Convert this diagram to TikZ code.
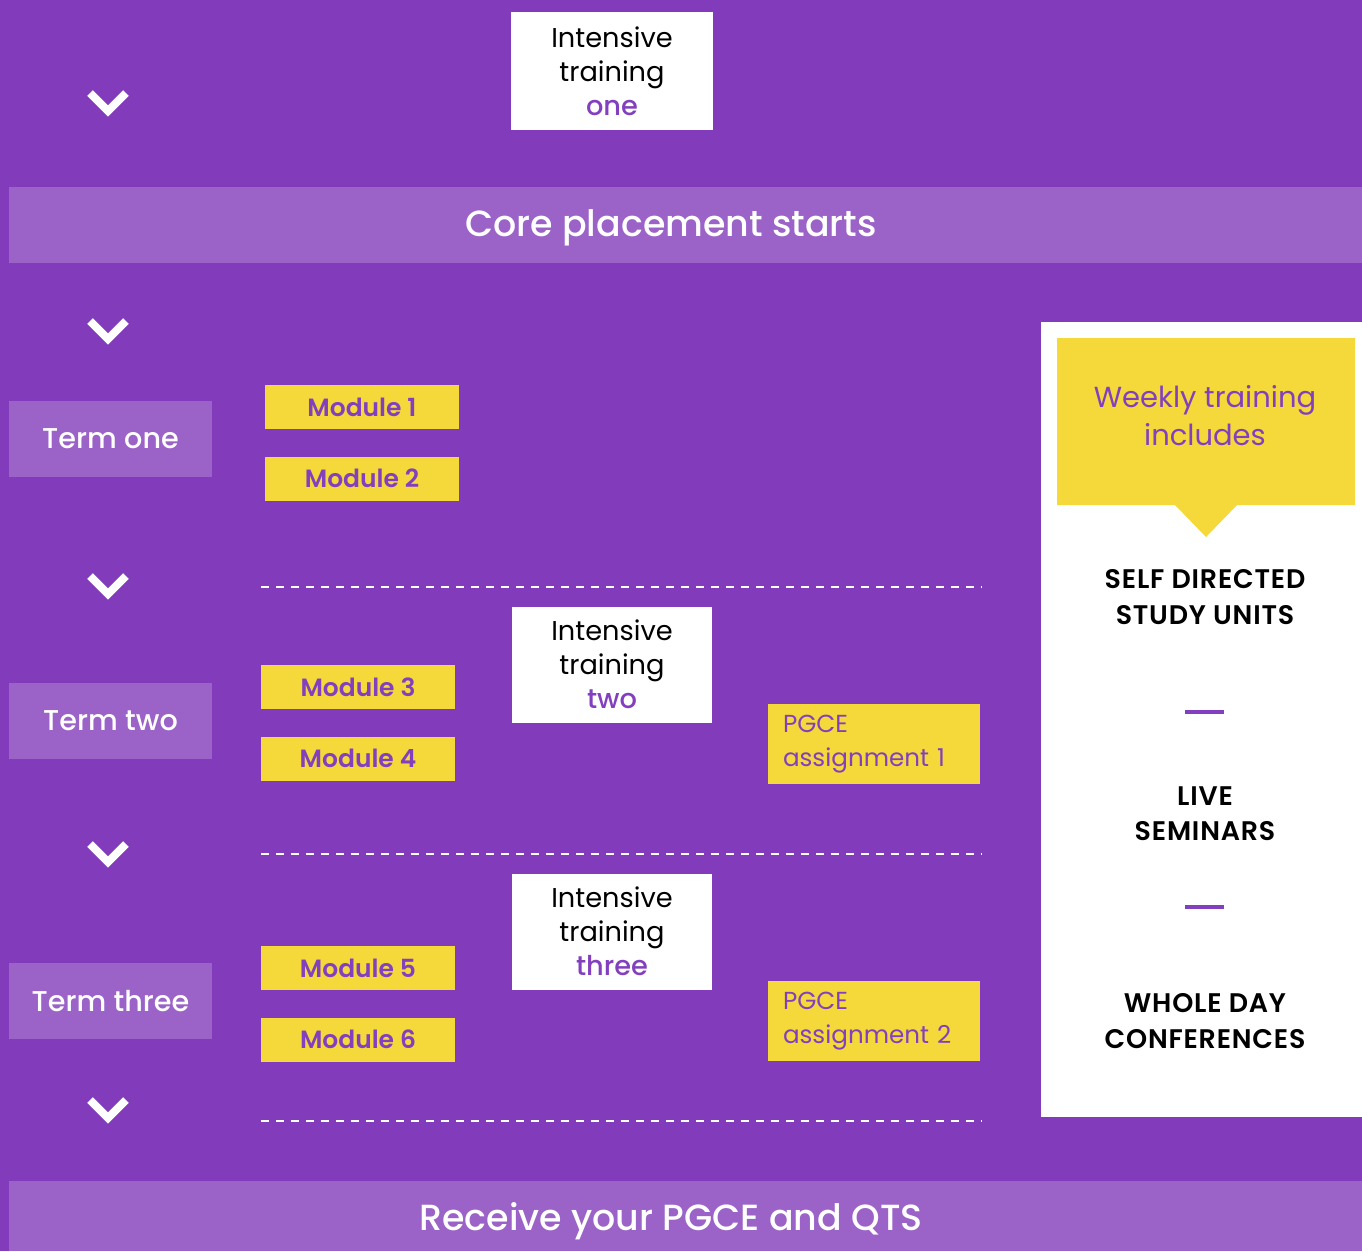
\documentclass[tikz,border=0pt]{standalone}
\usepackage{fontspec}
\setmainfont{Poppins}
\newfontfamily\planmed{Poppins Medium}
\newfontfamily\planheavy{Poppins SemiBold}
\newfontfamily\plansemi{Poppins SemiBold}[LetterSpace=3]
\usetikzlibrary{positioning}
\definecolor{PlanPurple}{HTML}{823BBB}
\definecolor{PlanLilac}{HTML}{9B63C8}
\definecolor{PlanYellow}{HTML}{F5D839}
\definecolor{PlanInk}{HTML}{8240BE}
\tikzset{
  planband/.style={
    fill=PlanLilac,
    inner sep=0pt,
    minimum width=27.06cm
  },
  bandtext/.style={
    text=white,
    font=\planmed\fontsize{20.7}{26}\selectfont
  },
  termbox/.style={
    fill=PlanLilac,
    text=white,
    inner sep=0pt,
    minimum width=4.06cm,
    minimum height=1.52cm,
    font=\planmed\fontsize{16.3}{21}\selectfont
  },
  modbox/.style={
    fill=PlanYellow,
    text=PlanInk,
    inner sep=0pt,
    minimum width=3.88cm,
    minimum height=0.88cm,
    font=\planheavy\fontsize{14.2}{19}\selectfont
  },
  trainbox/.style={
    fill=white,
    align=center,
    inner sep=0pt,
    minimum width=4.02cm,
    minimum height=2.32cm,
    font=\fontsize{15.5}{19.4}\selectfont
  },
  pgcebox/.style={
    fill=PlanYellow,
    text=PlanInk,
    align=left,
    inner xsep=0.3cm,
    inner ysep=0pt,
    text width=3.64cm,
    minimum height=1.6cm,
    font=\fontsize{14}{19.2}\selectfont
  },
  unittext/.style={
    align=center,
    font=\plansemi\fontsize{15.3}{20}\selectfont
  },
  chevron/.style={draw=white,line width=0.16cm,miter limit=4},
  termrule/.style={draw=white,line width=0.03cm,dash pattern=on 0.16cm off 0.14cm},
  unitdash/.style={fill=PlanInk,draw=none}
}

\begin{document}
\begin{tikzpicture}[x=0.02cm,y=-0.02cm]
  \useasboundingbox (0,0) rectangle (1362,1251);
  \fill[PlanPurple] (0,0) rectangle (1362,1251);

  % chevrons down the left
  \foreach \cy in {102,330,585,853,1109}
    \draw[chevron] (90,\cy-9) -- (108,\cy+9) -- (126,\cy-9);

  % bands
  \node[planband,minimum height=1.52cm] (coreband) at (685.5,225) {};
  \node[bandtext] (coretext) at (671,228) {Core placement starts};
  \node[planband,minimum height=1.40cm] (finalband) at (685.5,1216) {};
  \node[bandtext] (finaltext) at (671,1221) {Receive your PGCE and QTS};

  % terms
  \node[termbox] (term1) at (110.5,439) {Term one};
  \node[termbox] (term2) at (110.5,721) {Term two};
  \node[termbox] (term3) at (110.5,1001) {Term three};

  % modules
  \node[modbox] (mod1) at (362,407) {Module 1};
  \node[modbox,below=0.54cm of mod1] (mod2) {Module 2};
  \node[modbox] (mod3) at (358,687) {Module 3};
  \node[modbox,below=0.54cm of mod3] (mod4) {Module 4};
  \node[modbox] (mod5) at (358,968) {Module 5};
  \node[modbox,below=0.54cm of mod5] (mod6) {Module 6};

  % intensive training blocks
  \node[trainbox,minimum width=4.04cm,minimum height=2.36cm] (train1) at (612,71)
    {Intensive\\training\\\textcolor{PlanInk}{\planmed one}};
  \node[trainbox] (train2) at (612,664.5) {Intensive\\training\\\textcolor{PlanInk}{\planmed two}};
  \node[trainbox] (train3) at (612,931.5) {Intensive\\training\\\textcolor{PlanInk}{\planmed three}};

  % assignments
  \node[pgcebox] (pgce1) at (874,744) {PGCE\\assignment 1};
  \node[pgcebox] (pgce2) at (874,1021) {PGCE\\assignment 2};

  % term rules
  \foreach \ry in {587,854,1121}
    \draw[termrule] (261,\ry) -- (982,\ry);

  % weekly panel
  \node[fill=white,inner sep=0pt,minimum width=6.42cm,minimum height=15.9cm] (weekpanel) at (1201.5,719.5) {};
  \fill[PlanYellow] (1057,338) -- (1355,338) -- (1355,505) -- (1237,505)
    -- (1206,537) -- (1175,505) -- (1057,505) -- cycle;
  \node[text=PlanInk,align=center,font=\fontsize{16.5}{21.6}\selectfont] (weekly) at (1205,416)
    {Weekly training\\includes};
  \node[unittext] (selfstudy) at (1205,597) {SELF DIRECTED\\STUDY UNITS};
  \fill[unitdash] (1185,710) rectangle (1224,714);
  \node[unittext] (seminars) at (1205,814) {LIVE\\SEMINARS};
  \fill[unitdash] (1185,905) rectangle (1224,909);
  \node[unittext] (conferences) at (1205,1021) {WHOLE DAY\\CONFERENCES};
\end{tikzpicture}
\end{document}
